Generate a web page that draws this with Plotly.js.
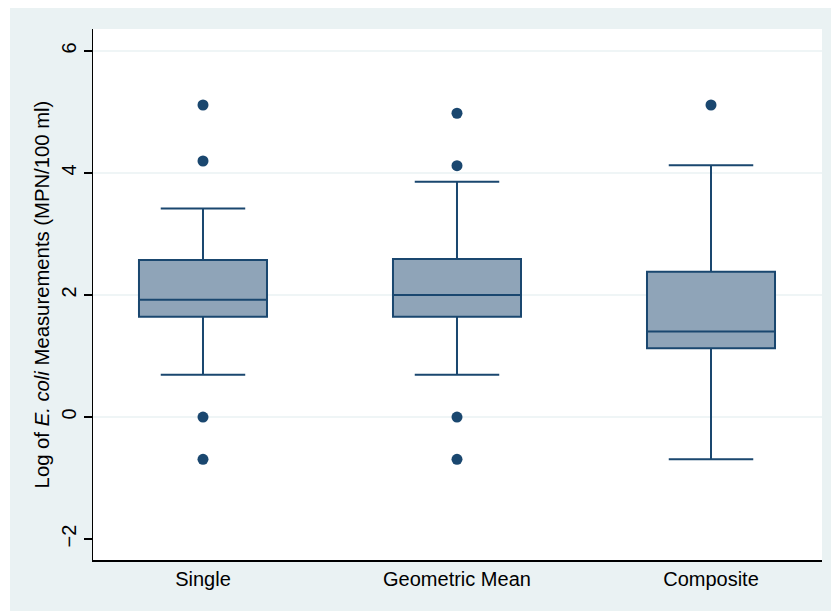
<!DOCTYPE html>
<html>
<head>
<meta charset="utf-8">
<script src="https://cdn.plot.ly/plotly-3.0.1.min.js"></script>
<style>
  html, body { margin: 0; padding: 0; background: #ffffff; }
  #chart { position: absolute; left: 10px; top: 8px; width: 821px; height: 603px; }
</style>
</head>
<body>
<div id="chart"></div>
<script>
// Categories
const categories = ["Single", "Geometric Mean", "Composite"];

// Box statistics (log of E. coli, MPN/100 ml)
const q1Values     = [1.645, 1.644, 1.126];
const medianValues = [1.924, 2.000, 1.400];
const q3Values     = [2.574, 2.590, 2.380];
const lowerWhisker = [0.693, 0.693, -0.693];
const upperWhisker = [3.420, 3.857, 4.126];

// Outliers
const outlierCategories = ["Single", "Single", "Single", "Single",
                           "Geometric Mean", "Geometric Mean", "Geometric Mean", "Geometric Mean",
                           "Composite"];
const outlierValues = [5.115, 4.197, 0.000, -0.693,
                       4.980, 4.120, 0.000, -0.693,
                       5.115];

// Axis ticks
const yTickValues = [-2, 0, 2, 4, 6];
const yTickLabels = ["\u22122", "0", "2", "4", "6"];
const gridValues = [0, 2, 4, 6];

const navy = "#1A476F";
const font = "Liberation Sans, Arial, Helvetica, sans-serif";

const traces = [
  {
    type: "box",
    x: categories,
    q1: q1Values,
    median: medianValues,
    q3: q3Values,
    lowerfence: lowerWhisker,
    upperfence: upperWhisker,
    fillcolor: "#8FA4B8",
    line: { color: navy, width: 2 },
    whiskerwidth: 0.66,
    boxpoints: false,
    hoverinfo: "skip",
    showlegend: false
  },
  {
    type: "scatter",
    mode: "markers",
    x: outlierCategories,
    y: outlierValues,
    marker: { color: navy, size: 11 },
    hoverinfo: "skip",
    showlegend: false
  }
];

const shapes = gridValues.map(v => ({
  type: "line", xref: "paper", yref: "y",
  x0: 0, x1: 1, y0: v, y1: v,
  line: { color: "#EAF2F3", width: 1.5 },
  layer: "below"
}));

const layout = {
  width: 821,
  height: 603,
  margin: { l: 83, r: 9, t: 21, b: 51 },
  paper_bgcolor: "#EAF2F3",
  plot_bgcolor: "#FFFFFF",
  font: { family: font, color: "#000000", size: 20 },
  boxmode: "overlay",
  boxgap: 0.496,
  boxgroupgap: 0,
  showlegend: false,
  shapes: shapes,
  xaxis: {
    type: "category",
    range: [-0.433, 2.437],
    showgrid: false,
    zeroline: false,
    showline: true,
    linecolor: "#000000",
    linewidth: 1.5,
    ticks: "",
    tickfont: { family: font, size: 20, color: "#000000" },
    fixedrange: true
  },
  yaxis: {
    range: [-2.344, 6.361],
    tickvals: yTickValues,
    ticktext: yTickLabels,
    tickangle: -90,
    ticks: "outside",
    ticklen: 8,
    tickwidth: 1.3,
    tickcolor: "#000000",
    showgrid: false,
    zeroline: false,
    showline: true,
    linecolor: "#000000",
    linewidth: 1.5,
    tickfont: { family: font, size: 20, color: "#000000" },
    title: {
      text: "Log of <i>E. coli</i> Measurements (MPN/100 ml)",
      font: { family: font, size: 20.3, color: "#000000" },
      standoff: 2
    },
    fixedrange: true
  }
};

Plotly.newPlot("chart", traces, layout, { displayModeBar: false, staticPlot: true });
</script>
</body>
</html>
